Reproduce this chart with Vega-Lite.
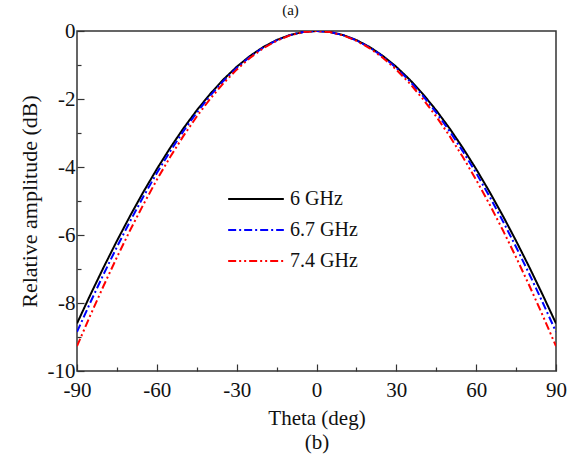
{
  "$schema": "https://vega.github.io/schema/vega-lite/v6.json",
  "width": 479,
  "height": 340,
  "autosize": {"type": "none"},
  "padding": {"left": 77, "top": 31, "right": 28, "bottom": 88},
  "background": "white",
  "title": {"text": "(a)", "font": "Liberation Serif", "fontSize": 15, "fontWeight": "normal", "color": "#111", "offset": 2, "dx": -26},
  "config": {
    "view": {"stroke": "#333", "strokeWidth": 1.5},
    "font": "Liberation Serif"
  },
  "datasets": {
    "pattern": [
      {"theta": -90, "s": "6 GHz", "v": -8.6}, {"theta": -85, "s": "6 GHz", "v": -7.761}, {"theta": -80, "s": "6 GHz", "v": -6.951}, {"theta": -75, "s": "6 GHz", "v": -6.173}, {"theta": -70, "s": "6 GHz", "v": -5.431}, {"theta": -65, "s": "6 GHz", "v": -4.726}, {"theta": -60, "s": "6 GHz", "v": -4.061}, {"theta": -55, "s": "6 GHz", "v": -3.439}, {"theta": -50, "s": "6 GHz", "v": -2.863}, {"theta": -45, "s": "6 GHz", "v": -2.334}, {"theta": -40, "s": "6 GHz", "v": -1.855}, {"theta": -35, "s": "6 GHz", "v": -1.428}, {"theta": -30, "s": "6 GHz", "v": -1.054}, {"theta": -25, "s": "6 GHz", "v": -0.735}, {"theta": -20, "s": "6 GHz", "v": -0.472}, {"theta": -15, "s": "6 GHz", "v": -0.266}, {"theta": -10, "s": "6 GHz", "v": -0.118}, {"theta": -5, "s": "6 GHz", "v": -0.03}, {"theta": 0, "s": "6 GHz", "v": 0}, {"theta": 5, "s": "6 GHz", "v": -0.03}, {"theta": 10, "s": "6 GHz", "v": -0.118}, {"theta": 15, "s": "6 GHz", "v": -0.266}, {"theta": 20, "s": "6 GHz", "v": -0.472}, {"theta": 25, "s": "6 GHz", "v": -0.735}, {"theta": 30, "s": "6 GHz", "v": -1.054}, {"theta": 35, "s": "6 GHz", "v": -1.428}, {"theta": 40, "s": "6 GHz", "v": -1.855}, {"theta": 45, "s": "6 GHz", "v": -2.334}, {"theta": 50, "s": "6 GHz", "v": -2.863}, {"theta": 55, "s": "6 GHz", "v": -3.439}, {"theta": 60, "s": "6 GHz", "v": -4.061}, {"theta": 65, "s": "6 GHz", "v": -4.726}, {"theta": 70, "s": "6 GHz", "v": -5.431}, {"theta": 75, "s": "6 GHz", "v": -6.173}, {"theta": 80, "s": "6 GHz", "v": -6.951}, {"theta": 85, "s": "6 GHz", "v": -7.761}, {"theta": 90, "s": "6 GHz", "v": -8.6},
      {"theta": -90, "s": "6.7 GHz", "v": -8.85}, {"theta": -85, "s": "6.7 GHz", "v": -7.986}, {"theta": -80, "s": "6.7 GHz", "v": -7.153}, {"theta": -75, "s": "6.7 GHz", "v": -6.353}, {"theta": -70, "s": "6.7 GHz", "v": -5.588}, {"theta": -65, "s": "6.7 GHz", "v": -4.863}, {"theta": -60, "s": "6.7 GHz", "v": -4.179}, {"theta": -55, "s": "6.7 GHz", "v": -3.539}, {"theta": -50, "s": "6.7 GHz", "v": -2.946}, {"theta": -45, "s": "6.7 GHz", "v": -2.402}, {"theta": -40, "s": "6.7 GHz", "v": -1.909}, {"theta": -35, "s": "6.7 GHz", "v": -1.469}, {"theta": -30, "s": "6.7 GHz", "v": -1.085}, {"theta": -25, "s": "6.7 GHz", "v": -0.756}, {"theta": -20, "s": "6.7 GHz", "v": -0.485}, {"theta": -15, "s": "6.7 GHz", "v": -0.274}, {"theta": -10, "s": "6.7 GHz", "v": -0.122}, {"theta": -5, "s": "6.7 GHz", "v": -0.03}, {"theta": 0, "s": "6.7 GHz", "v": 0}, {"theta": 5, "s": "6.7 GHz", "v": -0.03}, {"theta": 10, "s": "6.7 GHz", "v": -0.122}, {"theta": 15, "s": "6.7 GHz", "v": -0.274}, {"theta": 20, "s": "6.7 GHz", "v": -0.485}, {"theta": 25, "s": "6.7 GHz", "v": -0.756}, {"theta": 30, "s": "6.7 GHz", "v": -1.085}, {"theta": 35, "s": "6.7 GHz", "v": -1.469}, {"theta": 40, "s": "6.7 GHz", "v": -1.909}, {"theta": 45, "s": "6.7 GHz", "v": -2.402}, {"theta": 50, "s": "6.7 GHz", "v": -2.946}, {"theta": 55, "s": "6.7 GHz", "v": -3.539}, {"theta": 60, "s": "6.7 GHz", "v": -4.179}, {"theta": 65, "s": "6.7 GHz", "v": -4.863}, {"theta": 70, "s": "6.7 GHz", "v": -5.588}, {"theta": 75, "s": "6.7 GHz", "v": -6.353}, {"theta": 80, "s": "6.7 GHz", "v": -7.153}, {"theta": 85, "s": "6.7 GHz", "v": -7.986}, {"theta": 90, "s": "6.7 GHz", "v": -8.85},
      {"theta": -90, "s": "7.4 GHz", "v": -9.27}, {"theta": -85, "s": "7.4 GHz", "v": -8.365}, {"theta": -80, "s": "7.4 GHz", "v": -7.492}, {"theta": -75, "s": "7.4 GHz", "v": -6.654}, {"theta": -70, "s": "7.4 GHz", "v": -5.854}, {"theta": -65, "s": "7.4 GHz", "v": -5.094}, {"theta": -60, "s": "7.4 GHz", "v": -4.377}, {"theta": -55, "s": "7.4 GHz", "v": -3.707}, {"theta": -50, "s": "7.4 GHz", "v": -3.086}, {"theta": -45, "s": "7.4 GHz", "v": -2.516}, {"theta": -40, "s": "7.4 GHz", "v": -2.0}, {"theta": -35, "s": "7.4 GHz", "v": -1.539}, {"theta": -30, "s": "7.4 GHz", "v": -1.136}, {"theta": -25, "s": "7.4 GHz", "v": -0.792}, {"theta": -20, "s": "7.4 GHz", "v": -0.508}, {"theta": -15, "s": "7.4 GHz", "v": -0.287}, {"theta": -10, "s": "7.4 GHz", "v": -0.128}, {"theta": -5, "s": "7.4 GHz", "v": -0.032}, {"theta": 0, "s": "7.4 GHz", "v": 0}, {"theta": 5, "s": "7.4 GHz", "v": -0.032}, {"theta": 10, "s": "7.4 GHz", "v": -0.128}, {"theta": 15, "s": "7.4 GHz", "v": -0.287}, {"theta": 20, "s": "7.4 GHz", "v": -0.508}, {"theta": 25, "s": "7.4 GHz", "v": -0.792}, {"theta": 30, "s": "7.4 GHz", "v": -1.136}, {"theta": 35, "s": "7.4 GHz", "v": -1.539}, {"theta": 40, "s": "7.4 GHz", "v": -2.0}, {"theta": 45, "s": "7.4 GHz", "v": -2.516}, {"theta": 50, "s": "7.4 GHz", "v": -3.086}, {"theta": 55, "s": "7.4 GHz", "v": -3.707}, {"theta": 60, "s": "7.4 GHz", "v": -4.377}, {"theta": 65, "s": "7.4 GHz", "v": -5.094}, {"theta": 70, "s": "7.4 GHz", "v": -5.854}, {"theta": 75, "s": "7.4 GHz", "v": -6.654}, {"theta": 80, "s": "7.4 GHz", "v": -7.492}, {"theta": 85, "s": "7.4 GHz", "v": -8.365}, {"theta": 90, "s": "7.4 GHz", "v": -9.27}
    ]
  },
  "data": {"name": "pattern"},
  "mark": {"type": "line", "strokeWidth": 2, "clip": true},
  "encoding": {
    "x": {
      "field": "theta", "type": "quantitative",
      "scale": {"domain": [-90, 90], "nice": false, "zero": false},
      "axis": {
        "values": [-90, -75, -60, -45, -30, -15, 0, 15, 30, 45, 60, 75, 90],
        "labelExpr": "datum.value % 30 === 0 ? ((datum.value < 0 ? '-' : '') + abs(datum.value)) : ''",
        "grid": false, "domain": false,
        "tickColor": "#333", "tickWidth": 1.2,
        "tickSize": {"condition": {"test": "datum.value % 30 === 0", "value": -7}, "value": -4},
        "labelPadding": 15, "labelFont": "Liberation Serif", "labelFontSize": 21, "labelColor": "#111",
        "labelFlush": false, "labelOverlap": false,
        "title": ["Theta (deg)", "(b)"], "titleFont": "Liberation Serif", "titleFontSize": 21, "titleFontWeight": "normal", "titleColor": "#111", "titlePadding": 4, "titleLineHeight": 24
      }
    },
    "y": {
      "field": "v", "type": "quantitative",
      "scale": {"domain": [-10, 0], "nice": false, "zero": false},
      "axis": {
        "values": [-10, -9, -8, -7, -6, -5, -4, -3, -2, -1, 0],
        "labelExpr": "datum.value % 2 === 0 ? ((datum.value < 0 ? '-' : '') + abs(datum.value)) : ''",
        "grid": false, "domain": false,
        "tickColor": "#333", "tickWidth": 1.2,
        "tickSize": {"condition": {"test": "datum.value % 2 === 0", "value": -7}, "value": -4},
        "labelPadding": 9, "labelFont": "Liberation Serif", "labelFontSize": 21, "labelColor": "#111",
        "labelFlush": false, "labelOverlap": false,
        "title": "Relative amplitude (dB)", "titleFont": "Liberation Serif", "titleFontSize": 22, "titleFontWeight": "normal", "titleColor": "#111", "titlePadding": 6
      }
    },
    "color": {
      "field": "s", "type": "nominal",
      "scale": {"domain": ["6 GHz", "6.7 GHz", "7.4 GHz"], "range": ["#000000", "#0000ff", "#ff0000"]},
      "legend": {
        "title": null, "orient": "none", "legendX": 150, "legendY": 158,
        "symbolType": "stroke", "symbolSize": 3100, "symbolStrokeWidth": 2,
        "labelFont": "Liberation Serif", "labelFontSize": 20, "labelColor": "#111",
        "labelOffset": 5, "clipHeight": 20, "rowPadding": 11, "padding": 0
      }
    },
    "strokeDash": {
      "field": "s", "type": "nominal",
      "scale": {"domain": ["6 GHz", "6.7 GHz", "7.4 GHz"], "range": [[1, 0], [8, 3, 2, 3], [8, 3, 2, 3, 2, 3]]}
    }
  }
}
